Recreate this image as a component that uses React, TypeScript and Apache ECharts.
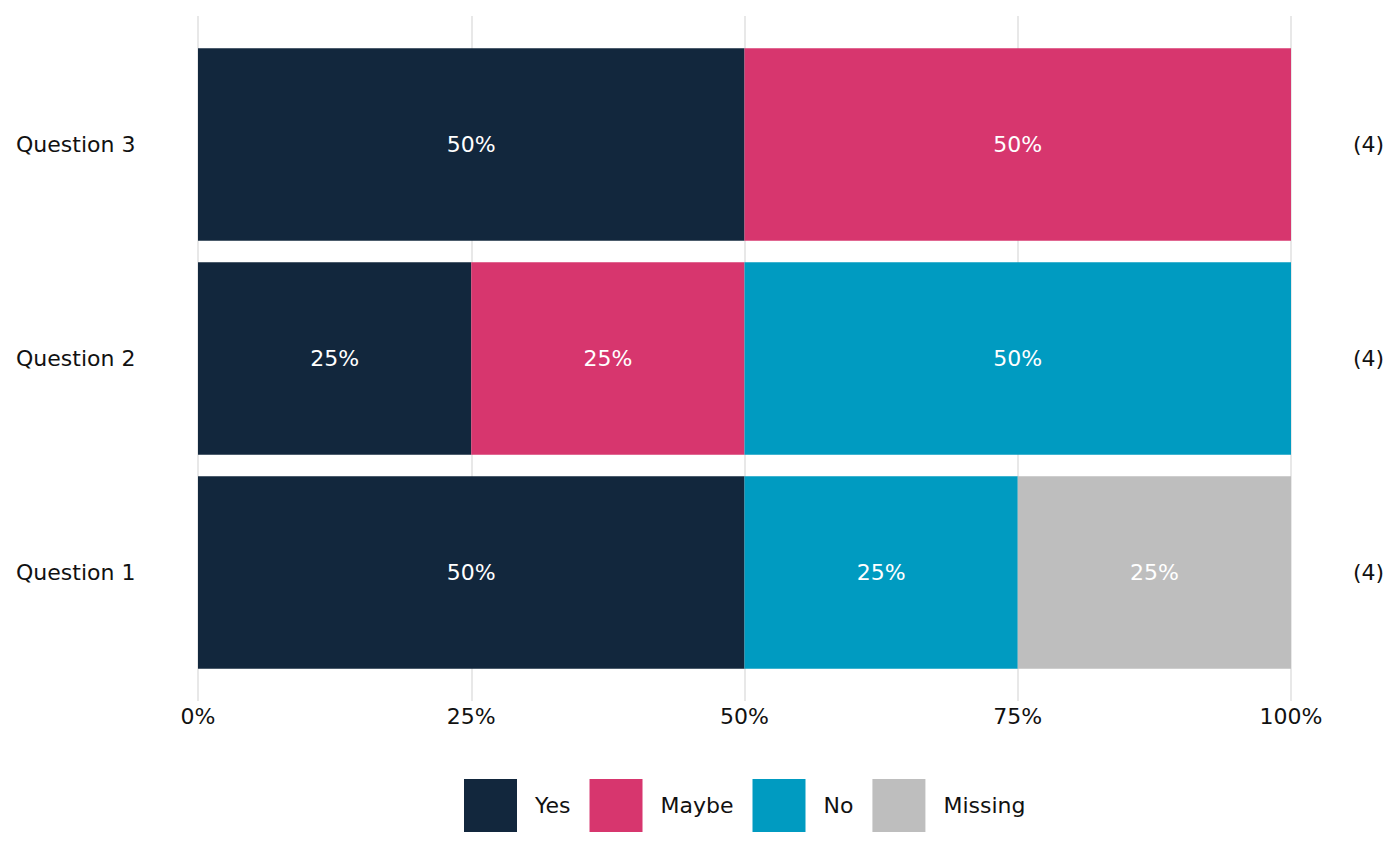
import React, { useEffect, useRef } from "react";
import * as echarts from "echarts";

const categories = ["Question 1", "Question 2", "Question 3"];
const totals = [4, 4, 4];
const seriesNames = ["Yes", "Maybe", "No", "Missing"];
const yesCounts = [2, 1, 2];
const maybeCounts = [0, 1, 2];
const noCounts = [1, 2, 0];
const missingCounts = [1, 0, 0];
const colors = ["#12273d", "#d7366e", "#009bc1", "#bebebe"];
const xTicks = [0, 25, 50, 75, 100];

const FONT = "DejaVu Sans";
const FS = 22;

export default function App() {
  const ref = useRef<HTMLDivElement>(null);
  useEffect(() => {
    if (!ref.current) return;
    const chart = echarts.init(ref.current, undefined, { renderer: "svg" });
    const counts = [yesCounts, maybeCounts, noCounts, missingCounts];
    const series = seriesNames.map((name, i) => ({
      name,
      type: "bar",
      stack: "total",
      xAxisIndex: 1,
      yAxisIndex: 1,
      barWidth: "90%",
      itemStyle: { color: colors[i] },
      label: {
        show: true,
        position: "inside",
        color: "#ffffff",
        fontFamily: FONT,
        fontSize: FS,
        formatter: (p: any) => `${Math.round(p.value)}%`,
      },
      data: counts[i].map((c, j) => (c > 0 ? (c / totals[j]) * 100 : null)),
    }));
    chart.setOption({
      animation: false,
      textStyle: { fontFamily: FONT },
      grid: [
        { left: 198, right: 109, top: 16, height: 685 },
        { left: 198, right: 109, top: 37.5, height: 642 },
      ],
      xAxis: [
        {
          gridIndex: 0,
          type: "value",
          min: 0,
          max: 100,
          interval: 25,
          axisLine: { show: false },
          axisTick: { show: false },
          splitLine: { show: true, lineStyle: { color: "#e8e8e8", width: 2 } },
          axisLabel: {
            color: "#111",
            fontFamily: FONT,
            fontSize: FS,
            margin: 4,
            formatter: (v: number) => (xTicks.includes(v) ? `${v}%` : ""),
          },
        },
        {
          gridIndex: 1,
          type: "value",
          min: 0,
          max: 100,
          interval: 25,
          show: false,
          splitLine: { show: false },
        },
      ],
      yAxis: [
        {
          gridIndex: 0,
          type: "category",
          data: categories,
          show: false,
        },
        {
          gridIndex: 1,
          type: "category",
          data: categories,
          position: "left",
          axisLine: { show: false },
          axisTick: { show: false },
          axisLabel: {
            align: "left",
            margin: 182,
            color: "#111",
            fontFamily: FONT,
            fontSize: FS,
          },
        },
        {
          gridIndex: 1,
          type: "category",
          data: totals.map((t) => `(${t})`),
          position: "right",
          axisLine: { show: false },
          axisTick: { show: false },
          axisLabel: {
            align: "left",
            margin: 62,
            color: "#111",
            fontFamily: FONT,
            fontSize: FS,
          },
        },
      ],
      legend: {
        data: seriesNames,
        left: 464,
        top: 779,
        padding: 0,
        itemWidth: 53,
        itemHeight: 53,
        itemGap: 19,
        icon: "rect",
        textStyle: {
          color: "#111",
          fontFamily: FONT,
          fontSize: FS,
          padding: [0, 0, 0, 13],
        },
      },
      series,
    });
    return () => chart.dispose();
  }, []);
  return <div ref={ref} style={{ width: 1400, height: 866, margin: -8 }} />;
}
